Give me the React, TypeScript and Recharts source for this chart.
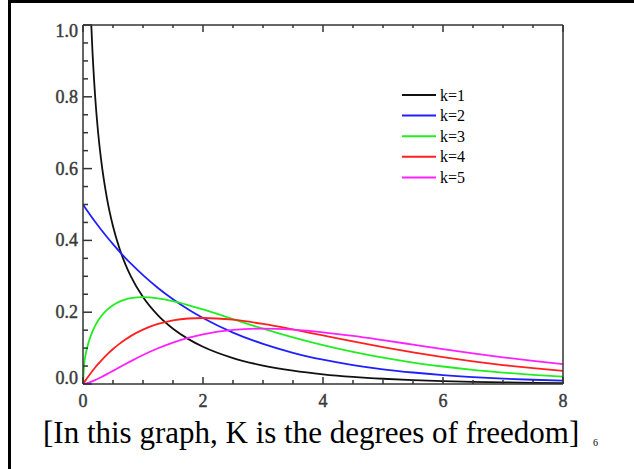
import React from 'react';
import { LineChart, Line, XAxis, YAxis, Legend } from 'recharts';

// x positions where the curves were read
const X_VALUES = [0, 0.02, 0.05, 0.1, 0.15, 0.2, 0.25, 0.3, 0.4, 0.5, 0.6, 0.7, 0.8, 1, 1.25, 1.5, 1.75, 2, 2.5, 3, 3.5, 4, 4.5, 5, 5.5, 6, 6.5, 7, 7.5, 8];
const K1 = [null, 2.793, 1.74, 1.2, 0.9556, 0.8072, 0.7041, 0.6269, 0.5164, 0.4394, 0.3815, 0.336, 0.299, 0.242, 0.191, 0.1539, 0.1257, 0.1038, 0.0723, 0.0514, 0.0371, 0.027, 0.0198, 0.0146, 0.0109, 0.0081, 0.0061, 0.0046, 0.0034, 0.0026];
const K2 = [0.5, 0.495, 0.4877, 0.4756, 0.4639, 0.4524, 0.4413, 0.4304, 0.4094, 0.3894, 0.3704, 0.3523, 0.3352, 0.3033, 0.2676, 0.2362, 0.2084, 0.1839, 0.1433, 0.1116, 0.0869, 0.0677, 0.0527, 0.041, 0.032, 0.0249, 0.0194, 0.0151, 0.0118, 0.0092];
const K3 = [0, 0.0559, 0.087, 0.12, 0.1433, 0.1614, 0.176, 0.1881, 0.2066, 0.2197, 0.2289, 0.2352, 0.2392, 0.242, 0.2387, 0.2308, 0.22, 0.2076, 0.1807, 0.1542, 0.1297, 0.108, 0.0892, 0.0732, 0.0598, 0.0487, 0.0394, 0.0319, 0.0257, 0.0207];
const K4 = [0, 0.005, 0.0122, 0.0238, 0.0348, 0.0452, 0.0552, 0.0646, 0.0819, 0.0974, 0.1111, 0.1233, 0.1341, 0.1516, 0.1673, 0.1771, 0.1824, 0.1839, 0.1791, 0.1674, 0.1521, 0.1353, 0.1186, 0.1026, 0.0879, 0.0747, 0.063, 0.0528, 0.0441, 0.0366];
const K5 = [0, 0.0004, 0.0015, 0.004, 0.0072, 0.0108, 0.0147, 0.0188, 0.0275, 0.0366, 0.0458, 0.0549, 0.0638, 0.0807, 0.0995, 0.1154, 0.1283, 0.1384, 0.1506, 0.1542, 0.1513, 0.144, 0.1338, 0.122, 0.1097, 0.0973, 0.0855, 0.0744, 0.0642, 0.0551];

const SERIES_NAMES = ['k=1', 'k=2', 'k=3', 'k=4', 'k=5'];
const SERIES_COLORS = ['#111111', '#2020ff', '#20ee20', '#ff2020', '#ff20ff'];

const X_TICKS = [0, 0.5, 1, 1.5, 2, 2.5, 3, 3.5, 4, 4.5, 5, 5.5, 6, 6.5, 7, 7.5, 8];
const X_MAJOR = [0, 2, 4, 6, 8];
const Y_TICKS = [0, 0.05, 0.1, 0.15, 0.2, 0.25, 0.3, 0.35, 0.4, 0.45, 0.5, 0.55, 0.6, 0.65, 0.7, 0.75, 0.8, 0.85, 0.9, 0.95, 1];
const Y_MAJOR = [0, 0.2, 0.4, 0.6, 0.8, 1];

const CAPTION = '[In this graph, K is the degrees of freedom]';
const PAGE_NUMBER = '6';

const SERIES = [K1, K2, K3, K4, K5];
const data = X_VALUES.map((x, i) => {
  const row: any = { x };
  SERIES.forEach((s, j) => {
    row['k' + (j + 1)] = s[i];
  });
  return row;
});

const AX = '#333';
const FONT = '"Liberation Serif", "Times New Roman", serif';

const isMajorY = (v: number) => Y_MAJOR.some((m) => Math.abs(m - v) < 1e-9);

function Label(p: { x: number; y: number; anchor: string; children: string }) {
  return (
    <text
      x={p.x}
      y={p.y}
      textAnchor={p.anchor}
      fill="#3a3a3a"
      stroke="#3a3a3a"
      strokeWidth={0.45}
      style={{ fontSize: '18px', fontFamily: FONT, fontWeight: 400 }}
    >
      {p.children}
    </text>
  );
}

function BottomTick(props: any) {
  const { x, y, payload } = props;
  const v = payload.value;
  const major = X_MAJOR.includes(v);
  return (
    <g>
      <line x1={x} y1={y} x2={x} y2={y - (major ? 7 : 4)} stroke={AX} strokeWidth={1.5} />
      {major && <Label x={x} y={y + 23} anchor="middle">{String(v)}</Label>}
    </g>
  );
}

function TopTick(props: any) {
  const { x, y, payload } = props;
  const major = X_MAJOR.includes(payload.value);
  return <line x1={x} y1={y} x2={x} y2={y + (major ? 7 : 3)} stroke={AX} strokeWidth={1.5} />;
}

function LeftTick(props: any) {
  const { x, y, payload } = props;
  const v = payload.value;
  const major = isMajorY(v);
  let base = y + 6;
  if (v === 1) base = y + 12;
  if (v === 0) base = y;
  return (
    <g>
      <line x1={x} y1={y} x2={x + (major ? 9 : 5)} y2={y} stroke={AX} strokeWidth={1.5} />
      {major && <Label x={x - 5} y={base} anchor="end">{v.toFixed(1)}</Label>}
    </g>
  );
}

function RightTick(props: any) {
  const { x, y, payload } = props;
  const major = isMajorY(payload.value);
  return <line x1={x} y1={y} x2={x - (major ? 9 : 6)} y2={y} stroke={AX} strokeWidth={1.5} />;
}

function LegendBox(props: any) {
  const payload = props.payload || [];
  return (
    <svg width={90} height={104} style={{ display: 'block' }}>
      {payload.map((p: any, i: number) => {
        const cy = 11 + i * 20.6;
        return (
          <g key={p.value}>
            <line x1={2} y1={cy} x2={36} y2={cy} stroke={p.color} strokeWidth={2} />
            <text x={40} y={cy + 5.5} style={{ fontFamily: FONT, fontSize: 16, fill: '#000' }}>
              {p.value}
            </text>
          </g>
        );
      })}
    </svg>
  );
}

export default function App() {
  return (
    <div style={{ position: 'absolute', left: 0, top: 0, width: 634, height: 469, background: '#fff', overflow: 'hidden' }}>
      <LineChart width={634} height={469} data={data} margin={{ top: 24, right: 70, bottom: 55, left: 43 }}>
        <XAxis
          dataKey="x"
          type="number"
          domain={[0, 8]}
          ticks={X_TICKS}
          interval={0}
          height={30}
          tickSize={0}
          tickMargin={0}
          tickLine={false}
          tick={BottomTick}
          axisLine={{ stroke: AX, strokeWidth: 1.5 }}
          allowDataOverflow
        />
        <XAxis
          xAxisId="top"
          orientation="top"
          dataKey="x"
          type="number"
          domain={[0, 8]}
          ticks={X_TICKS}
          interval={0}
          height={1}
          tickSize={0}
          tickMargin={0}
          tickLine={false}
          tick={TopTick}
          axisLine={{ stroke: AX, strokeWidth: 1.5 }}
        />
        <YAxis
          type="number"
          domain={[0, 1]}
          ticks={Y_TICKS}
          interval={0}
          width={40}
          tickSize={0}
          tickMargin={0}
          tickLine={false}
          tick={LeftTick}
          axisLine={{ stroke: AX, strokeWidth: 1.5 }}
          allowDataOverflow
        />
        <YAxis
          yAxisId="right"
          orientation="right"
          type="number"
          domain={[0, 1]}
          ticks={Y_TICKS}
          interval={0}
          width={1}
          tickSize={0}
          tickMargin={0}
          tickLine={false}
          tick={RightTick}
          axisLine={{ stroke: AX, strokeWidth: 1.5 }}
        />
        <Legend
          layout="vertical"
          align="center"
          verticalAlign="middle"
          content={LegendBox}
          wrapperStyle={{ left: 400, top: 84, width: 90, height: 104 }}
        />
        {SERIES_NAMES.map((name, j) => (
          <Line
            key={name}
            dataKey={'k' + (j + 1)}
            name={name}
            type="monotone"
            stroke={SERIES_COLORS[j]}
            strokeWidth={1.8}
            dot={false}
            activeDot={false}
            isAnimationActive={false}
          />
        ))}
      </LineChart>
      <svg width={634} height={469} style={{ position: 'absolute', left: 0, top: 0, pointerEvents: 'none' }}>
        <rect x={9.5} y={1.5} width={700} height={600} fill="none" stroke="#000" strokeWidth={3} />
        <text x={43} y={443} fontFamily={FONT} fontSize={31} fill="#000">
          {CAPTION}
        </text>
        <text x={593} y={446} fontFamily={FONT} fontSize={10} fill="#000">
          {PAGE_NUMBER}
        </text>
      </svg>
    </div>
  );
}
